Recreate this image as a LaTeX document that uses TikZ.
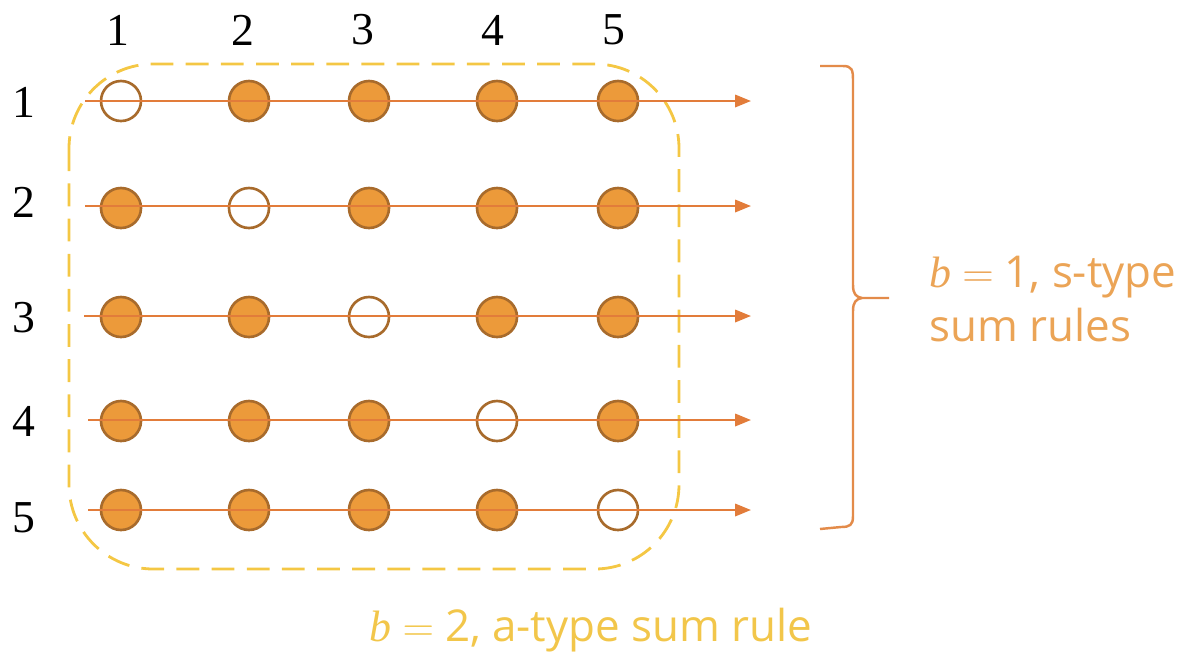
\documentclass[tikz,border=0pt]{standalone}
\usepackage{fontspec}
\usetikzlibrary{arrows.meta}
\newfontfamily\numfont{Liberation Serif}
\newfontfamily\lblfont{Open Sans}
\definecolor{dotfill}{HTML}{EC9A3A}
\definecolor{dotline}{HTML}{A86B2C}
\definecolor{rowline}{HTML}{E27C3A}
\definecolor{boxyel}{HTML}{F4C744}
\definecolor{bracecol}{HTML}{E38B4A}
\definecolor{labor}{HTML}{EBA456}
\definecolor{labyel}{HTML}{F2C64A}
\newcommand{\mathb}[1]{{\numfont\itshape b}\hspace{0.25em}$=$\hspace{0.25em}#1}
\begin{document}
\begin{tikzpicture}[x=0.02cm,y=-0.02cm,
  full/.style={circle,draw=dotline,fill=dotfill,line width=1.5pt,minimum size=40*0.02cm,inner sep=0pt},
  empty/.style={circle,draw=dotline,fill=white,line width=1.5pt,minimum size=40*0.02cm,inner sep=0pt},
  rowarrow/.style={draw=rowline,line width=1.3pt,-{Triangle[length=9pt,width=7pt]}},
  num/.style={font=\numfont\fontsize{26}{28}\selectfont,inner sep=0pt}]
\useasboundingbox (0,0) rectangle (1190,653);
% dashed box
\draw[boxyel,line width=1.6pt,dash pattern=on 13pt off 7pt,rounded corners=48pt] (69,64) rectangle (679,569);
% column labels
\foreach \x/\n in {118/1,243/2,363/3,493/4,614/5}
  \node[num] (col\n) at (\x,30) {\n};
% row labels
\foreach \y/\n in {102/1,202/2,318/3,421/4,518/5}
  \node[num] (row\n) at (24,\y) {\n};
% dots
\foreach \r/\y in {1/101,2/208,3/317,4/421,5/510}{
  \foreach \c/\x in {1/121,2/249,3/369,4/497,5/618}{
    \ifnum\r=\c
      \node[empty] (d\r\c) at (\x,\y) {};
    \else
      \node[full] (d\r\c) at (\x,\y) {};
    \fi
  }
}
% row arrows
\foreach \r/\y/\s in {1/101/85,2/206/85,3/316/84,4/420/88,5/510/88}{
  \coordinate (s\r) at (\s,\y);
  \coordinate (e\r) at (751,\y);
  \draw[rowarrow] (s\r) -- (e\r);
}
% brace
\draw[bracecol,line width=1.4pt,line join=round]
  (820,66) -- (843,66) .. controls (852,66) and (853,70) .. (853,80)
  -- (853,285) .. controls (853,294) and (856,297) .. (862,298) -- (889,298)
  (862,298) .. controls (856,299) and (853,302) .. (853,311)
  -- (853,516) .. controls (853,525) and (850,527) .. (841,527) -- (820,529);
% labels
\node[text=labor,font=\lblfont\fontsize{25}{31}\selectfont,align=left,anchor=west,inner sep=0pt] (slab) at (929,299)
  {\mathb{1}, s-type\\sum rules};
\node[text=labyel,font=\lblfont\fontsize{25}{30}\selectfont,inner sep=0pt] (alab) at (591,630)
  {\mathb{2}, a-type sum rule};
\end{tikzpicture}
\end{document}
